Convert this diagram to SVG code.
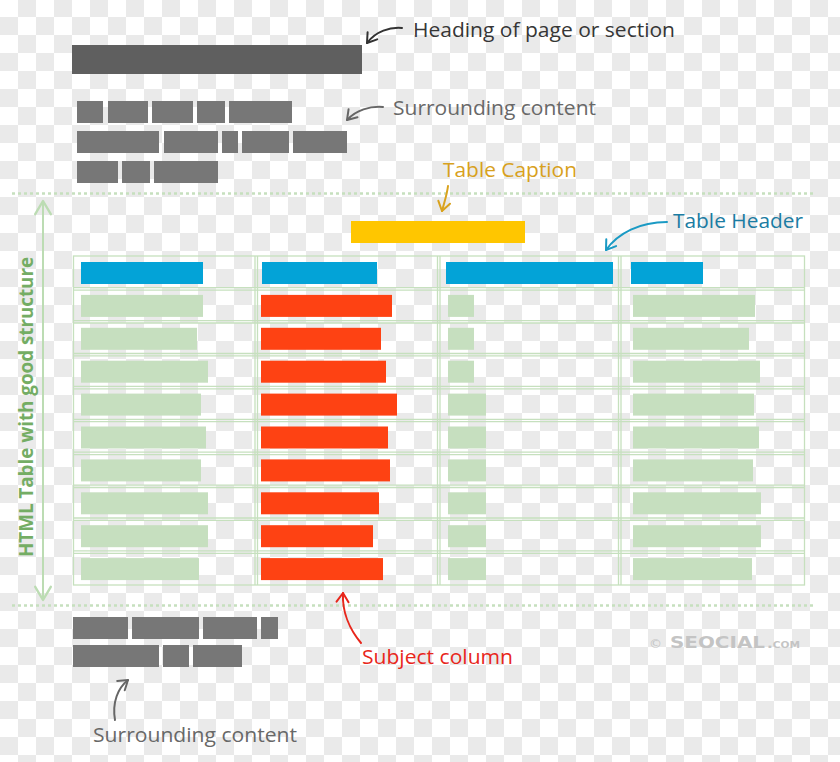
<svg xmlns="http://www.w3.org/2000/svg" width="840" height="762" viewBox="0 0 840 762">
<defs>
  <pattern id="checker" x="0" y="-1" width="36" height="36" patternUnits="userSpaceOnUse">
    <rect width="36" height="36" fill="#ffffff"/>
    <rect x="18" y="0" width="18" height="18" fill="#eaeaea"/>
    <rect x="0" y="18" width="18" height="18" fill="#eaeaea"/>
  </pattern>
  <marker id="mDark" markerUnits="userSpaceOnUse" markerWidth="20" markerHeight="20" viewBox="-12 -10 14 20" refX="0" refY="0" orient="auto">
    <path d="M-9,-6 L0,0 L-9,6" fill="none" stroke="#333333" stroke-width="2" stroke-linecap="round" stroke-linejoin="round"/>
  </marker>
  <marker id="mGray" markerUnits="userSpaceOnUse" markerWidth="20" markerHeight="20" viewBox="-12 -10 14 20" refX="0" refY="0" orient="auto">
    <path d="M-9,-6 L0,0 L-9,6" fill="none" stroke="#666666" stroke-width="2" stroke-linecap="round" stroke-linejoin="round"/>
  </marker>
  <marker id="mGold" markerUnits="userSpaceOnUse" markerWidth="20" markerHeight="20" viewBox="-12 -10 14 20" refX="0" refY="0" orient="auto">
    <path d="M-9,-6 L0,0 L-9,6" fill="none" stroke="#d9a21c" stroke-width="2" stroke-linecap="round" stroke-linejoin="round"/>
  </marker>
  <marker id="mBlue" markerUnits="userSpaceOnUse" markerWidth="20" markerHeight="20" viewBox="-12 -10 14 20" refX="0" refY="0" orient="auto">
    <path d="M-9,-6 L0,0 L-9,6" fill="none" stroke="#1a9ac4" stroke-width="2" stroke-linecap="round" stroke-linejoin="round"/>
  </marker>
  <marker id="mRed" markerUnits="userSpaceOnUse" markerWidth="20" markerHeight="20" viewBox="-12 -10 14 20" refX="0" refY="0" orient="auto">
    <path d="M-9,-6 L0,0 L-9,6" fill="none" stroke="#e8261b" stroke-width="2" stroke-linecap="round" stroke-linejoin="round"/>
  </marker>
  <marker id="mGreen" markerUnits="userSpaceOnUse" markerWidth="24" markerHeight="24" viewBox="-14 -10 16 20" refX="0" refY="0" orient="auto-start-reverse">
    <path d="M-11,-6.5 L0,0 L-11,6.5" fill="none" stroke="#bcdcb3" stroke-width="2" stroke-linecap="round" stroke-linejoin="round"/>
  </marker>
  <style>
    .lbl { font-family: "Open Sans", Lato, "Liberation Sans", sans-serif; font-size: 20px; }
    .dark { fill: #5f5f5f; }
    .gray { fill: #777777; }
    .blue { fill: #03a3d7; }
    .green { fill: #c6dfbf; }
    .red { fill: #fe4213; }
    .grid { fill: none; stroke: #c6e0be; stroke-width: 1.3; }
    .dots { stroke: #c6e0be; stroke-width: 2.5; stroke-dasharray: 3 3; fill: none; }
    .conn { fill: none; stroke-width: 2; stroke-linecap: round; }
  </style>
</defs>

<rect width="840" height="762" fill="url(#checker)"/>

<g id="heading">
  <rect class="dark" x="72" y="45" width="290" height="29"/>
  <text class="lbl" x="413" y="37" fill="#363636" textLength="262" lengthAdjust="spacingAndGlyphs">Heading of page or section</text>
</g>

<g id="surrounding-top">
  <rect class="gray" x="77" y="101" width="26" height="22"/>
  <rect class="gray" x="108" y="101" width="40" height="22"/>
  <rect class="gray" x="152" y="101" width="41" height="22"/>
  <rect class="gray" x="197" y="101" width="28" height="22"/>
  <rect class="gray" x="229" y="101" width="63" height="22"/>
  <rect class="gray" x="77" y="131" width="82" height="22"/>
  <rect class="gray" x="164" y="131" width="54" height="22"/>
  <rect class="gray" x="222" y="131" width="16" height="22"/>
  <rect class="gray" x="242" y="131" width="47" height="22"/>
  <rect class="gray" x="293" y="131" width="54" height="22"/>
  <rect class="gray" x="77" y="161" width="41" height="22"/>
  <rect class="gray" x="122" y="161" width="28" height="22"/>
  <rect class="gray" x="154" y="161" width="64" height="22"/>
  <text class="lbl" x="393" y="115" fill="#686868" textLength="203" lengthAdjust="spacingAndGlyphs">Surrounding content</text>
</g>

<g id="bounds">
  <line class="dots" x1="12" y1="193.5" x2="813" y2="193.5"/>
  <line class="dots" x1="12" y1="605.5" x2="813" y2="605.5"/>
  <text x="33" y="407" transform="rotate(-90 33 407)" text-anchor="middle" font-family="'Open Sans', Lato, 'Liberation Sans', sans-serif" font-weight="bold" font-size="19" fill="#74ad64" textLength="300" lengthAdjust="spacingAndGlyphs">HTML Table with good structure</text>
</g>

<g id="caption">
  <rect x="351" y="221" width="174" height="22" fill="#ffc600"/>
  <text class="lbl" x="443" y="177" fill="#d8a11d" textLength="134" lengthAdjust="spacingAndGlyphs">Table Caption</text>
</g>

<g id="table-grid">
  <rect class="grid" x="73.5" y="256" width="731" height="329"/>
  <line class="grid" x1="255" y1="256" x2="255" y2="585"/>
  <line class="grid" x1="257.5" y1="256" x2="257.5" y2="585"/>
  <line class="grid" x1="437.5" y1="256" x2="437.5" y2="585"/>
  <line class="grid" x1="440" y1="256" x2="440" y2="585"/>
  <line class="grid" x1="618.5" y1="256" x2="618.5" y2="585"/>
  <line class="grid" x1="621" y1="256" x2="621" y2="585"/>
  <line class="grid" x1="73.5" y1="287.7" x2="804.5" y2="287.7"/>
  <line class="grid" x1="73.5" y1="290.1" x2="804.5" y2="290.1"/>
  <line class="grid" x1="73.5" y1="320.6" x2="804.5" y2="320.6"/>
  <line class="grid" x1="73.5" y1="323" x2="804.5" y2="323"/>
  <line class="grid" x1="73.5" y1="353.5" x2="804.5" y2="353.5"/>
  <line class="grid" x1="73.5" y1="355.9" x2="804.5" y2="355.9"/>
  <line class="grid" x1="73.5" y1="386.4" x2="804.5" y2="386.4"/>
  <line class="grid" x1="73.5" y1="388.8" x2="804.5" y2="388.8"/>
  <line class="grid" x1="73.5" y1="419.3" x2="804.5" y2="419.3"/>
  <line class="grid" x1="73.5" y1="421.7" x2="804.5" y2="421.7"/>
  <line class="grid" x1="73.5" y1="452.2" x2="804.5" y2="452.2"/>
  <line class="grid" x1="73.5" y1="454.6" x2="804.5" y2="454.6"/>
  <line class="grid" x1="73.5" y1="485.1" x2="804.5" y2="485.1"/>
  <line class="grid" x1="73.5" y1="487.5" x2="804.5" y2="487.5"/>
  <line class="grid" x1="73.5" y1="518" x2="804.5" y2="518"/>
  <line class="grid" x1="73.5" y1="520.4" x2="804.5" y2="520.4"/>
  <line class="grid" x1="73.5" y1="550.9" x2="804.5" y2="550.9"/>
  <line class="grid" x1="73.5" y1="553.3" x2="804.5" y2="553.3"/>
</g>

<g id="table-header">
  <rect class="blue" x="81" y="262" width="122" height="22"/>
  <rect class="blue" x="262" y="262" width="115" height="22"/>
  <rect class="blue" x="446" y="262" width="167" height="22"/>
  <rect class="blue" x="631" y="262" width="72" height="22"/>
  <text class="lbl" x="673" y="228" fill="#1b7ca3" textLength="130" lengthAdjust="spacingAndGlyphs">Table Header</text>
</g>

<g id="column-1">
  <rect class="green" x="81" y="294.9" width="122" height="22"/>
  <rect class="green" x="81" y="327.8" width="116" height="22"/>
  <rect class="green" x="81" y="360.7" width="127" height="22"/>
  <rect class="green" x="81" y="393.6" width="120" height="22"/>
  <rect class="green" x="81" y="426.5" width="125" height="22"/>
  <rect class="green" x="81" y="459.4" width="120" height="22"/>
  <rect class="green" x="81" y="492.3" width="127" height="22"/>
  <rect class="green" x="81" y="525.2" width="127" height="22"/>
  <rect class="green" x="81" y="558.1" width="118" height="22"/>
</g>

<g id="subject-column">
  <rect class="red" x="261" y="294.9" width="131" height="22"/>
  <rect class="red" x="261" y="327.8" width="120" height="22"/>
  <rect class="red" x="261" y="360.7" width="125" height="22"/>
  <rect class="red" x="261" y="393.6" width="136" height="22"/>
  <rect class="red" x="261" y="426.5" width="127" height="22"/>
  <rect class="red" x="261" y="459.4" width="129" height="22"/>
  <rect class="red" x="261" y="492.3" width="118" height="22"/>
  <rect class="red" x="261" y="525.2" width="112" height="22"/>
  <rect class="red" x="261" y="558.1" width="122" height="22"/>
  <text class="lbl" x="362" y="664" fill="#e8261b" textLength="151" lengthAdjust="spacingAndGlyphs">Subject column</text>
</g>

<g id="column-3">
  <rect class="green" x="448" y="294.9" width="26" height="22"/>
  <rect class="green" x="448" y="327.8" width="26" height="22"/>
  <rect class="green" x="448" y="360.7" width="26" height="22"/>
  <rect class="green" x="448" y="393.6" width="38" height="22"/>
  <rect class="green" x="448" y="426.5" width="38" height="22"/>
  <rect class="green" x="448" y="459.4" width="38" height="22"/>
  <rect class="green" x="448" y="492.3" width="38" height="22"/>
  <rect class="green" x="448" y="525.2" width="38" height="22"/>
  <rect class="green" x="448" y="558.1" width="38" height="22"/>
</g>

<g id="column-4">
  <rect class="green" x="633" y="294.9" width="122" height="22"/>
  <rect class="green" x="633" y="327.8" width="116" height="22"/>
  <rect class="green" x="633" y="360.7" width="127" height="22"/>
  <rect class="green" x="633" y="393.6" width="121" height="22"/>
  <rect class="green" x="633" y="426.5" width="126" height="22"/>
  <rect class="green" x="633" y="459.4" width="120" height="22"/>
  <rect class="green" x="633" y="492.3" width="128" height="22"/>
  <rect class="green" x="633" y="525.2" width="128" height="22"/>
  <rect class="green" x="633" y="558.1" width="119" height="22"/>
</g>

<g id="surrounding-bottom">
  <rect class="gray" x="73" y="617" width="55" height="22"/>
  <rect class="gray" x="132" y="617" width="67" height="22"/>
  <rect class="gray" x="203" y="617" width="54" height="22"/>
  <rect class="gray" x="261" y="617" width="17" height="22"/>
  <rect class="gray" x="73" y="645" width="86" height="22"/>
  <rect class="gray" x="163" y="645" width="26" height="22"/>
  <rect class="gray" x="193" y="645" width="49" height="22"/>
  <text class="lbl" x="93" y="742" fill="#686868" textLength="204" lengthAdjust="spacingAndGlyphs">Surrounding content</text>
</g>

<g id="watermark" font-family="'DejaVu Sans', 'Liberation Sans', sans-serif" fill="#c4c4c4">
  <text x="649" y="648" font-size="13">©</text>
  <text x="670" y="648" font-size="15" font-weight="bold" textLength="95" lengthAdjust="spacingAndGlyphs">SEOCIAL</text>
  <text x="767" y="648" font-size="13" font-weight="bold" font-variant="small-caps" textLength="33" lengthAdjust="spacingAndGlyphs">.com</text>
</g>

<g id="connectors">
  <line x1="43" y1="201" x2="43" y2="600" stroke="#bcdcb3" stroke-width="2" marker-start="url(#mGreen)" marker-end="url(#mGreen)"/>
  <path class="conn" d="M402,28 C390,27 376,31 367,43" stroke="#333333" marker-end="url(#mDark)"/>
  <path class="conn" d="M383,107 C370,106 356,110 347,120" stroke="#666666" marker-end="url(#mGray)"/>
  <path class="conn" d="M448,186 C447,195 444,203 442,211" stroke="#d9a21c" marker-end="url(#mGold)"/>
  <path class="conn" d="M667,222 C640,222 618,233 606,250" stroke="#1a9ac4" marker-end="url(#mBlue)"/>
  <path class="conn" d="M361,643 C350,630 342,612 343,593" stroke="#e8261b" marker-end="url(#mRed)"/>
  <path class="conn" d="M115,720 C112,702 118,688 128,680" stroke="#666666" marker-end="url(#mGray)"/>
</g>
</svg>
